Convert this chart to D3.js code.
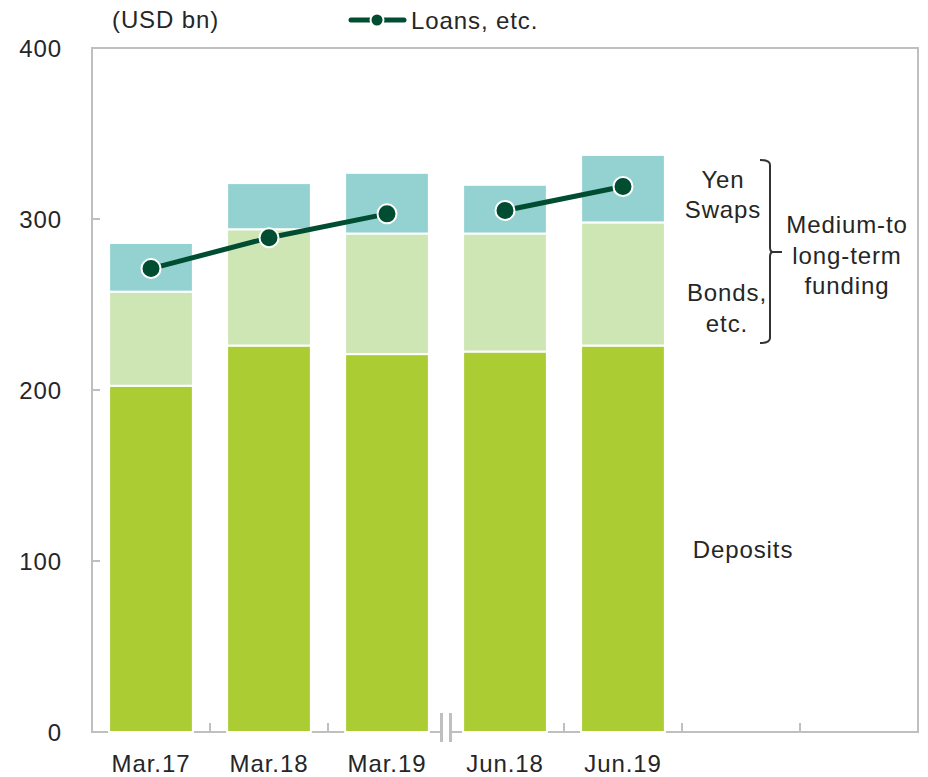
<!DOCTYPE html>
<html>
<head>
<meta charset="utf-8">
<script src="https://cdn.jsdelivr.net/npm/d3@7"></script>
<style>
  html, body { margin: 0; padding: 0; background: #fff; }
  svg text { font-family: "Liberation Sans", Arial, sans-serif; fill: #262626; letter-spacing: 0.9px; }
</style>
</head>
<body>
<svg id="chart" width="928" height="777"></svg>
<script>
// Periods shown on the x axis (two empty slots follow on the right)
const categories = ["Mar.17", "Mar.18", "Mar.19", "Jun.18", "Jun.19"];
// Which line segment each period belongs to (fiscal year-ends vs. June)
const periodGroup = ["Mar", "Mar", "Mar", "Jun", "Jun"];
// Funding components, USD bn (stacked bottom to top)
const deposits = [202.5, 226, 221, 222.5, 226];
const bondsEtc = [55, 68, 70.5, 69, 72];
const yenSwaps = [28.5, 27, 35.5, 28.5, 39.5];
// Loans, etc., USD bn
const loans = [271, 289, 303, 305, 319];
const yTicks = [0, 100, 200, 300, 400];
const slotCount = 7;

const colors = { deposits: "#abcd33", bonds: "#cde6b3", swaps: "#94d2d2", loans: "#004d31", frame: "#bfbfbf" };

const svg = d3.select("#chart");
const plotL = 92, plotR = 918, plotT = 48, plotB = 732;

const slots = d3.scaleBand().domain(d3.range(slotCount)).range([plotL, plotR]);
const y = d3.scaleLinear().domain([0, 400]).range([plotB, plotT]);
const barW = slots.bandwidth() * 0.71;
const cx = i => slots(i) + slots.bandwidth() / 2;

// Frame
svg.append("rect")
  .attr("x", plotL).attr("y", plotT)
  .attr("width", plotR - plotL).attr("height", plotB - plotT)
  .attr("fill", "none").attr("stroke", colors.frame).attr("stroke-width", 2);

// Y axis ticks (inward) and labels
const yAxis = svg.append("g");
yAxis.selectAll("line").data(yTicks.slice(1, -1)).join("line")
  .attr("x1", plotL).attr("x2", plotL + 8)
  .attr("y1", d => y(d)).attr("y2", d => y(d))
  .attr("stroke", colors.frame).attr("stroke-width", 2);
yAxis.selectAll("text").data(yTicks).join("text")
  .attr("x", 62).attr("y", d => y(d)).attr("dy", "0.36em")
  .attr("text-anchor", "end").attr("font-size", 24)
  .text(d => d);

// X axis ticks at slot boundaries (the boundary after Mar.19 carries the break)
const boundaries = d3.range(1, slotCount).filter(i => i !== 3);
svg.append("g").selectAll("line").data(boundaries).join("line")
  .attr("x1", i => slots(i)).attr("x2", i => slots(i))
  .attr("y1", plotB).attr("y2", plotB - 9)
  .attr("stroke", colors.frame).attr("stroke-width", 2);

// Stacked bars
const stackRows = categories.map((c, i) => ({ i, deposits: deposits[i], bonds: bondsEtc[i], swaps: yenSwaps[i] }));
const series = d3.stack().keys(["deposits", "bonds", "swaps"])(stackRows);
svg.append("g").selectAll("g").data(series).join("g")
  .attr("fill", s => colors[s.key])
  .selectAll("rect").data(s => s).join("rect")
  .attr("x", d => cx(d.data.i) - barW / 2)
  .attr("width", barW)
  .attr("y", d => y(d[1]))
  .attr("height", d => y(d[0]) - y(d[1]))
  .attr("stroke", "#fff").attr("stroke-width", 2);

// Axis break between Mar.19 and Jun.18
const bx = slots(3);
svg.append("rect").attr("x", bx - 3).attr("y", plotB - 3).attr("width", 6).attr("height", 6).attr("fill", "#fff");
svg.append("g").selectAll("line").data([-4.5, 4.5]).join("line")
  .attr("x1", d => bx + d).attr("x2", d => bx + d)
  .attr("y1", 713).attr("y2", 742)
  .attr("stroke", colors.frame).attr("stroke-width", 3);

// X labels
svg.append("g").selectAll("text").data(categories).join("text")
  .attr("x", (d, i) => cx(i)).attr("y", 772)
  .attr("text-anchor", "middle").attr("font-size", 24)
  .text(d => d);

// Loans line, drawn separately for each period group
const pts = loans.map((v, i) => ({ i, v, g: periodGroup[i] }));
const line = d3.line().x(d => cx(d.i)).y(d => y(d.v));
svg.append("g").selectAll("path").data(d3.groups(pts, d => d.g)).join("path")
  .attr("d", d => line(d[1]))
  .attr("fill", "none").attr("stroke", colors.loans).attr("stroke-width", 5);
svg.append("g").selectAll("circle").data(pts).join("circle")
  .attr("cx", d => cx(d.i)).attr("cy", d => y(d.v)).attr("r", 9.5)
  .attr("fill", colors.loans).attr("stroke", "#fff").attr("stroke-width", 2);

// Unit label
svg.append("text").attr("x", 112).attr("y", 28).attr("font-size", 24).text("(USD bn)");

// Legend
const lg = svg.append("g");
lg.append("line").attr("x1", 351).attr("x2", 404).attr("y1", 20).attr("y2", 20)
  .attr("stroke", colors.loans).attr("stroke-width", 5).attr("stroke-linecap", "round");
lg.append("circle").attr("cx", 377).attr("cy", 20).attr("r", 6.5)
  .attr("fill", colors.loans).attr("stroke", "#fff").attr("stroke-width", 2);
lg.append("text").attr("x", 411).attr("y", 29).attr("font-size", 24).text("Loans, etc.");

// Component labels to the right of the bars
const notes = [
  { t: "Yen", x: 723, y: 188 },
  { t: "Swaps", x: 723, y: 218 },
  { t: "Bonds,", x: 727, y: 301 },
  { t: "etc.", x: 727, y: 332 },
  { t: "Deposits", x: 743, y: 558 },
  { t: "Medium-to", x: 847, y: 233 },
  { t: "long-term", x: 847, y: 264 },
  { t: "funding", x: 847, y: 294 }
];
svg.append("g").selectAll("text").data(notes).join("text")
  .attr("x", d => d.x).attr("y", d => d.y)
  .attr("text-anchor", "middle").attr("font-size", 24)
  .text(d => d.t);

// Brace grouping yen swaps and bonds
svg.append("path")
  .attr("d", "M760,160 Q770,160 770,165 V247 Q770,252 773,252 Q770,252 770,257 V338 Q770,343 760,343 M773,252 H782")
  .attr("fill", "none").attr("stroke", "#333").attr("stroke-width", 2);
</script>
</body>
</html>
